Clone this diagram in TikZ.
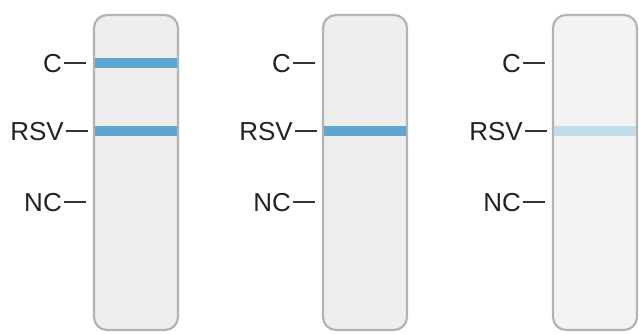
\documentclass[tikz,border=0pt]{standalone}
\usepackage{fontspec}
\setmainfont{Liberation Sans}
\definecolor{stripedge}{HTML}{B3B3B6}
\definecolor{stripfill}{HTML}{EEEEEE}
\definecolor{stripfaint}{HTML}{F3F3F3}
\definecolor{bandblue}{HTML}{5EA6CF}
\definecolor{bandlight}{HTML}{C3DCEA}
\definecolor{labelgray}{HTML}{222222}
\definecolor{tickgray}{HTML}{333333}
\tikzset{
  strip/.style={draw=stripedge, line width=2.2pt, rounded corners=13pt},
  band/.style={fill=#1, draw=none},
  lab/.style={anchor=east, inner sep=2pt, text=labelgray, font=\fontsize{26}{26}\selectfont, text height=18.6pt, text depth=0pt},
  tickline/.style={draw=tickgray, line width=1.5pt}
}
\begin{document}
\begin{tikzpicture}[x=1pt,y=-1pt]
\useasboundingbox (0,0) rectangle (639,334);
% ---------- strip 1
\begin{scope}
\path[strip, fill=stripfill] (94,15) rectangle (178,330);
\path[band=bandblue] (95,58) rectangle (177,68);
\path[band=bandblue] (95,126) rectangle (177,136);
\coordinate (ca1) at (64,63); \coordinate (cb1) at (86,63);
\coordinate (ra1) at (66,131); \coordinate (rb1) at (88,131);
\coordinate (na1) at (64,202); \coordinate (nb1) at (86,202);
\node[lab] (c1) at (ca1) {C};
\node[lab] (r1) at (ra1) {RSV};
\node[lab] (n1) at (na1) {NC};
\draw[tickline] (ca1) -- (cb1);
\draw[tickline] (ra1) -- (rb1);
\draw[tickline] (na1) -- (nb1);
\end{scope}
% ---------- strip 2
\begin{scope}[xshift=229pt]
\path[strip, fill=stripfill] (94,15) rectangle (178,330);
\path[band=bandblue] (95,126) rectangle (177,136);
\coordinate (ca2) at (64,63); \coordinate (cb2) at (86,63);
\coordinate (ra2) at (66,131); \coordinate (rb2) at (88,131);
\coordinate (na2) at (64,202); \coordinate (nb2) at (86,202);
\node[lab] (c2) at (ca2) {C};
\node[lab] (r2) at (ra2) {RSV};
\node[lab] (n2) at (na2) {NC};
\draw[tickline] (ca2) -- (cb2);
\draw[tickline] (ra2) -- (rb2);
\draw[tickline] (na2) -- (nb2);
\end{scope}
% ---------- strip 3
\begin{scope}[xshift=459pt]
\path[strip, fill=stripfaint] (94,15) rectangle (178,330);
\path[band=bandlight] (95,126) rectangle (177,136);
\coordinate (ca3) at (64,63); \coordinate (cb3) at (86,63);
\coordinate (ra3) at (66,131); \coordinate (rb3) at (88,131);
\coordinate (na3) at (64,202); \coordinate (nb3) at (86,202);
\node[lab] (c3) at (ca3) {C};
\node[lab] (r3) at (ra3) {RSV};
\node[lab] (n3) at (na3) {NC};
\draw[tickline] (ca3) -- (cb3);
\draw[tickline] (ra3) -- (rb3);
\draw[tickline] (na3) -- (nb3);
\end{scope}
\end{tikzpicture}
\end{document}
